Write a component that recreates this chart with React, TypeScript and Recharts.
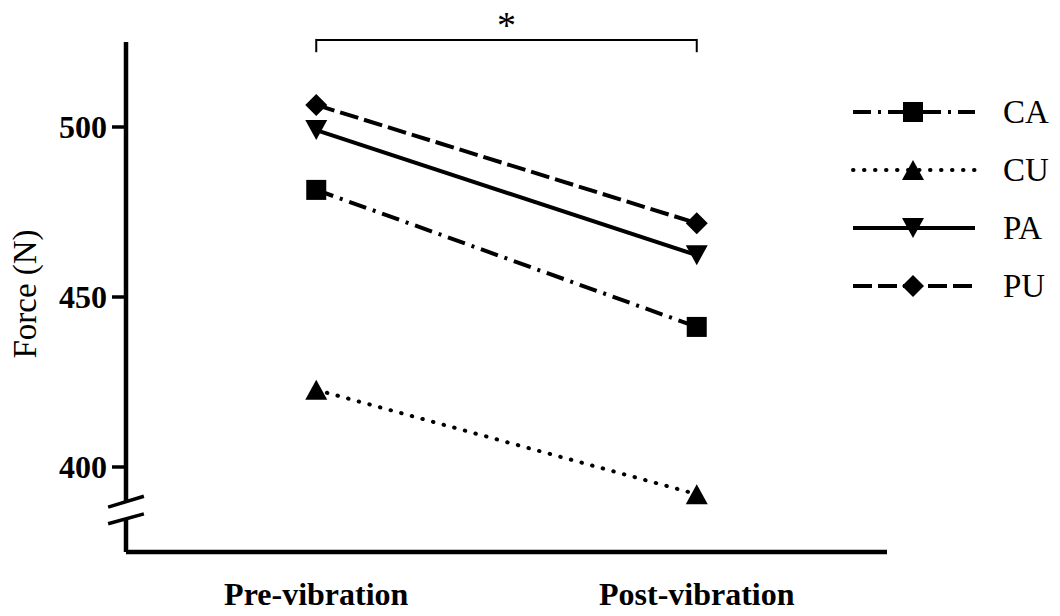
import React from 'react';
import { LineChart, Line, XAxis, YAxis, ReferenceLine, ReferenceDot, Legend } from 'recharts';

// ---- data ----
const categories = ['Pre-vibration', 'Post-vibration'];
const CA = [481.5, 441.2];
const CU = [422.7, 392.0];
const PA = [499.1, 462.3];
const PU = [506.5, 471.7];
const yTicks = [400, 450, 500];
const seriesNames = ['CA', 'CU', 'PA', 'PU'];

const data = categories.map((name, i) => ({
  x: i,
  name,
  CA: CA[i],
  CU: CU[i],
  PA: PA[i],
  PU: PU[i],
}));

// ---- styles ----
const FONT = '"Liberation Serif", "Times New Roman", serif';
const STYLE: Record<string, { dash?: string; cap: 'butt' | 'round'; shape: string }> = {
  CA: { dash: '18 7 3 7', cap: 'butt', shape: 'square' },
  CU: { dash: '0.5 10.5', cap: 'round', shape: 'triUp' },
  PA: { dash: undefined, cap: 'butt', shape: 'triDown' },
  PU: { dash: '19 6', cap: 'butt', shape: 'diamond' },
};

function markerEl(shape: string, cx: number, cy: number, key?: string) {
  const s = 10;
  switch (shape) {
    case 'square':
      return <rect key={key} x={cx - s} y={cy - s} width={2 * s} height={2 * s} fill="#000" />;
    case 'triUp':
      return <polygon key={key} points={`${cx},${cy - s} ${cx + s + 1},${cy + s} ${cx - s - 1},${cy + s}`} fill="#000" />;
    case 'triDown':
      return <polygon key={key} points={`${cx - s - 1},${cy - s} ${cx + s + 1},${cy - s} ${cx},${cy + s}`} fill="#000" />;
    case 'diamond':
    default:
      return <polygon key={key} points={`${cx},${cy - s - 1} ${cx + s + 1},${cy} ${cx},${cy + s + 1} ${cx - s - 1},${cy}`} fill="#000" />;
  }
}

const makeDot = (name: string) => (props: any) =>
  markerEl(STYLE[name].shape, props.cx, props.cy, `${name}-${props.index}`);

const YTick = (props: any) => {
  const { x, y, payload } = props;
  return (
    <text x={x} y={y} textAnchor="end" dominantBaseline="central" fontFamily={FONT} fontWeight="bold" fontSize={32} fill="#000">
      {payload.value}
    </text>
  );
};

const XTick = (props: any) => {
  const { x, y, payload } = props;
  return (
    <text x={x} y={y + 53} textAnchor="middle" fontFamily={FONT} fontWeight="bold" fontSize={32} fill="#000">
      {categories[payload.value]}
    </text>
  );
};

const YLabel = (props: any) => {
  const vb = props.viewBox || { x: 46, y: 42, width: 80, height: 510 };
  const cx = vb.x - 21;
  const cy = vb.y + vb.height / 2 - 3;
  return (
    <text x={cx} y={cy} transform={`rotate(-90, ${cx}, ${cy})`} textAnchor="middle" dominantBaseline="central" fontFamily={FONT} fontSize={33} fill="#000">
      Force (N)
    </text>
  );
};

const LegendContent = (props: any) => {
  const payload = props.payload || [];
  const rowH = 58;
  return (
    <svg width={210} height={rowH * payload.length} style={{ display: 'block', overflow: 'visible' }}>
      {payload.map((entry: any, i: number) => {
        const name = entry.value as string;
        const st = STYLE[name];
        const cy = i * rowH + 29;
        return (
          <g key={name}>
            <line x1={3} x2={125} y1={cy} y2={cy} stroke="#000" strokeWidth={4} strokeDasharray={st.dash} strokeLinecap={st.cap} />
            {markerEl(st.shape, 63, cy)}
            <text x={153} y={cy} dominantBaseline="central" fontFamily={FONT} fontSize={33} fill="#000">
              {name}
            </text>
          </g>
        );
      })}
    </svg>
  );
};

const AsteriskShape = (props: any) => (
  <text x={props.cx} y={props.cy + 18} textAnchor="middle" fontFamily={FONT} fontSize={38} fill="#000">
    *
  </text>
);

export default function App() {
  const axisX = -0.5;
  const slashDx = 0.047;
  return (
    <div style={{ position: 'absolute', left: 0, top: 0, background: '#fff' }}>
      <LineChart width={1060} height={616} data={data} margin={{ top: 42, right: 173, bottom: 14, left: 46 }}>
        <XAxis
          type="number"
          dataKey="x"
          domain={[-0.5, 1.5]}
          ticks={[0, 1]}
          interval={0}
          height={50}
          tickSize={0}
          tickMargin={0}
          tickLine={false}
          axisLine={{ stroke: '#000', strokeWidth: 4.5 }}
          tick={<XTick />}
          allowDataOverflow
        />
        <YAxis
          type="number"
          domain={[375, 525]}
          ticks={yTicks}
          width={80}
          allowDataOverflow
          axisLine={false}
          tickSize={14}
          tickMargin={5}
          tickLine={{ stroke: '#000', strokeWidth: 3.5 }}
          tick={<YTick />}
          label={{ content: <YLabel /> }}
        />
        {/* y axis with break */}
        <ReferenceLine ifOverflow="visible" segment={[{ x: axisX, y: 525 }, { x: axisX, y: 389.9 }]} stroke="#000" strokeWidth={4.5} />
        <ReferenceLine ifOverflow="visible" segment={[{ x: axisX, y: 384.9 }, { x: axisX, y: 375 }]} stroke="#000" strokeWidth={4.5} />
        <ReferenceLine ifOverflow="visible" segment={[{ x: axisX - slashDx, y: 388.2 }, { x: axisX + slashDx, y: 391.4 }]} stroke="#000" strokeWidth={3.5} />
        <ReferenceLine ifOverflow="visible" segment={[{ x: axisX - slashDx, y: 383.3 }, { x: axisX + slashDx, y: 386.2 }]} stroke="#000" strokeWidth={3.5} />
        {/* significance bracket */}
        <ReferenceLine ifOverflow="visible" segment={[{ x: 0, y: 525.6 }, { x: 1, y: 525.6 }]} stroke="#000" strokeWidth={2} />
        <ReferenceLine ifOverflow="visible" segment={[{ x: 0, y: 525.9 }, { x: 0, y: 522.0 }]} stroke="#000" strokeWidth={2} />
        <ReferenceLine ifOverflow="visible" segment={[{ x: 1, y: 525.9 }, { x: 1, y: 522.0 }]} stroke="#000" strokeWidth={2} />
        <ReferenceDot ifOverflow="visible" x={0.5} y={531.5} r={0} shape={<AsteriskShape />} />

        {seriesNames.map((name) => (
          <Line
            key={name}
            type="linear"
            dataKey={name}
            name={name}
            stroke="#000"
            strokeWidth={4}
            strokeDasharray={STYLE[name].dash}
            strokeLinecap={STYLE[name].cap}
            dot={makeDot(name)}
            activeDot={false}
            isAnimationActive={false}
          />
        ))}
        <Legend
          layout="horizontal"
          verticalAlign="middle"
          align="right"
          content={<LegendContent />}
          wrapperStyle={{ position: 'absolute', left: 850, top: 83, width: 0, height: 0, overflow: 'visible' }}
        />
      </LineChart>
    </div>
  );
}
